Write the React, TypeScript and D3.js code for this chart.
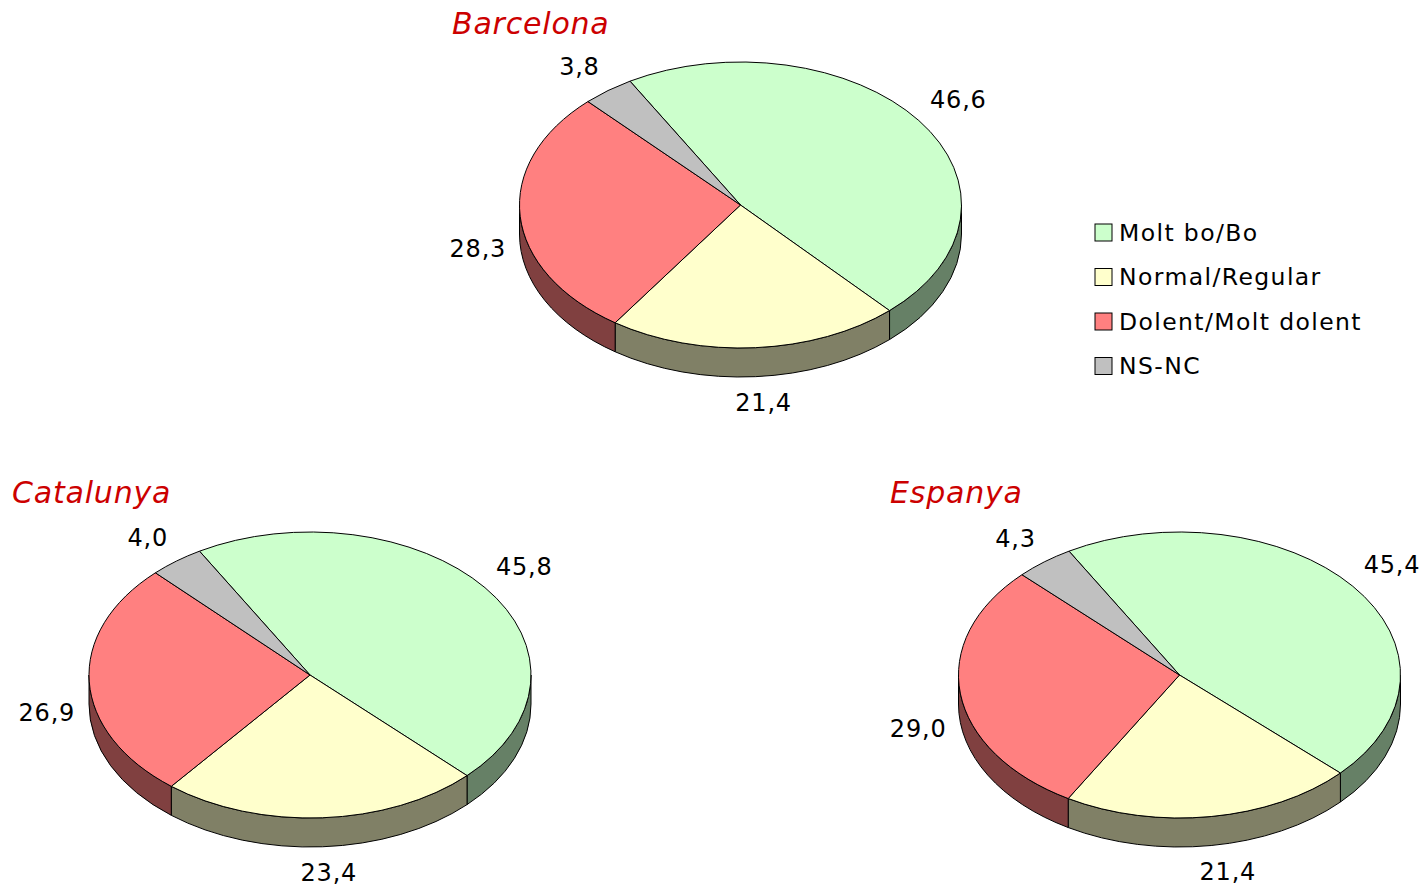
import React from "react";
import * as d3 from "d3";

const categories = ["Molt bo/Bo", "Normal/Regular", "Dolent/Molt dolent", "NS-NC"];
const topColors = ["#CCFFCC", "#FFFFCC", "#FF8080", "#C0C0C0"];
const sideColors = ["#668066", "#808066", "#804040", "#606060"];

const barcelona = [46.6, 21.4, 28.3, 3.8];
const catalunya = [45.8, 23.4, 26.9, 4.0];
const espanya = [45.4, 21.4, 29.0, 4.3];

const regions = ["Barcelona", "Catalunya", "Espanya"];
const regionValues = [barcelona, catalunya, espanya];

const W = 1423;
const H = 886;
const FONT = "'DejaVu Sans', Verdana, sans-serif";

const layout = [
  { cx: 740.5, cy: 205, titleX: 452, titleY: 33.5 },
  { cx: 310, cy: 675, titleX: 12, titleY: 503 },
  { cx: 1179.5, cy: 675, titleX: 890, titleY: 503 },
];

const RX = 221;
const RY = 143;
const DEPTH = 29;
const LABEL_SIZE = 24;

const fmt = (v: number) => d3.format(".1f")(v).replace(".", ",");
const clamp = (t: number) => Math.max(-1, Math.min(1, t));

function pt(cx: number, cy: number, a: number, dy = 0) {
  return [cx + RX * Math.sin(a), cy - RY * Math.cos(a) + dy];
}

function sidePath(cx: number, cy: number, a0: number, a1: number) {
  // visible front wall only: angles between 90 and 270 deg
  const lo = Math.max(a0, Math.PI / 2);
  const hi = Math.min(a1, (3 * Math.PI) / 2);
  if (hi <= lo) return null;
  const [x0, y0] = pt(cx, cy, lo);
  const [x1, y1] = pt(cx, cy, hi);
  return (
    `M${x0},${y0} A${RX},${RY} 0 0 1 ${x1},${y1} ` +
    `L${x1},${y1 + DEPTH} A${RX},${RY} 0 0 0 ${x0},${y0 + DEPTH} Z`
  );
}

function Pie3D({ values, title, pos }: { values: number[]; title: string; pos: any }) {
  const start = (-30 * Math.PI) / 180;
  const arcs = d3
    .pie<number>()
    .sort(null)
    .startAngle(start)
    .endAngle(start + 2 * Math.PI)(values);

  const arc = d3.arc<any>().innerRadius(0).outerRadius(RX);
  const { cx, cy } = pos;

  return (
    <g>
      <text
        x={pos.titleX}
        y={pos.titleY}
        fontFamily={FONT}
        fontStyle="italic"
        fontSize={30}
        letterSpacing={0.8}
        fill="#CC0000"
      >
        {title}
      </text>

      {/* side walls */}
      {arcs.map((a, i) => {
        const parts: [number, number][] = [];
        const s = a.startAngle;
        const e = a.endAngle;
        if (s < 0) {
          if (e <= 0) parts.push([s + 2 * Math.PI, e + 2 * Math.PI]);
          else {
            parts.push([s + 2 * Math.PI, 2 * Math.PI]);
            parts.push([0, e]);
          }
        } else parts.push([s, e]);
        return parts.map(([p0, p1], j) => {
          const d = sidePath(cx, cy, p0, p1);
          return d ? (
            <path key={`s${i}-${j}`} d={d} fill={sideColors[i]} stroke="#000" strokeWidth={1} />
          ) : null;
        });
      })}

      {/* top faces */}
      <g transform={`translate(${cx},${cy}) scale(1,${RY / RX})`}>
        {arcs.map((a, i) => (
          <path
            key={`t${i}`}
            d={arc(a) as string}
            fill={topColors[i]}
            stroke="#000"
            strokeWidth={1}
            vectorEffect="non-scaling-stroke"
          />
        ))}
      </g>

      {/* labels: nearest box corner sits just outside the rim */}
      {arcs.map((a, i) => {
        const mid = (a.startAngle + a.endAngle) / 2;
        const s = Math.sin(mid);
        const c = Math.cos(mid);
        const label = fmt(values[i]);
        const halfW = (label.length - 1) * 7.8 + 4;
        const halfH = 11.5;
        const gap = 15;
        const px = cx + RX * s;
        const py = cy - RY * c + (c < 0 ? DEPTH : 0);
        const x = px + gap * s + halfW * clamp(s * 3.7);
        const y = py - gap * c - halfH * clamp(c * 2.5);
        return (
          <text
            key={`l${i}`}
            x={x}
            y={y}
            textAnchor="middle"
            dominantBaseline="central"
            fontFamily={FONT}
            fontSize={LABEL_SIZE}
            letterSpacing={0.8}
            fill="#000"
          >
            {label}
          </text>
        );
      })}
    </g>
  );
}

export default function App() {
  const legendY = d3.scalePoint<string>().domain(categories).range([232.5, 366]);

  return (
    <svg
      width={W}
      height={H}
      viewBox={`0 0 ${W} ${H}`}
      style={{ position: "absolute", left: 0, top: 0, background: "#fff" }}
    >
      <rect width={W} height={H} fill="#fff" />
      {regions.map((r, i) => (
        <Pie3D key={r} values={regionValues[i]} title={r} pos={layout[i]} />
      ))}

      {/* Legend */}
      <g>
        {categories.map((c, i) => {
          const y = legendY(c) as number;
          return (
            <g key={c}>
              <rect
                x={1095}
                y={y - 8.5}
                width={17}
                height={17}
                fill={topColors[i]}
                stroke="#000"
                strokeWidth={1}
              />
              <text
                x={1119}
                y={y + 8.3}
                fontFamily={FONT}
                fontSize={23.5}
                letterSpacing={1.4}
                fill="#000"
              >
                {c}
              </text>
            </g>
          );
        })}
      </g>
    </svg>
  );
}
